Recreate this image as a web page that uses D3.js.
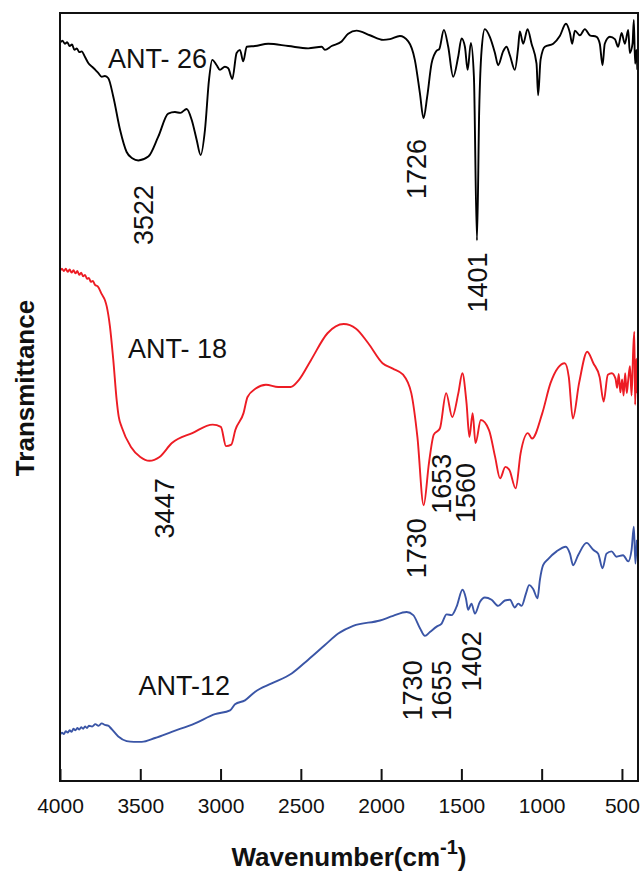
<!DOCTYPE html>
<html>
<head>
<meta charset="utf-8">
<script src="https://cdn.jsdelivr.net/npm/d3@7"></script>
<style>
  body { margin: 0; background: #fff; }
  svg text { font-family: "Liberation Sans", Arial, sans-serif; }
</style>
</head>
<body>
<div id="chart"></div>
<script>
const ant26 = [
  [4000, 96.1], [3985, 96.4], [3970, 96.0], [3955, 96.2], [3940, 95.7], [3925, 95.9], [3910, 95.2], [3895, 95.4],
  [3880, 94.9], [3865, 95.0], [3845, 94.3], [3824, 93.5], [3800, 93.0], [3780, 92.6], [3762, 92.2], [3740, 91.7],
  [3720, 91.8], [3699, 91.5], [3668, 89.1], [3626, 84.8], [3585, 81.9], [3550, 81.1], [3512, 80.8], [3450, 81.3],
  [3388, 83.9], [3326, 86.9], [3284, 87.1], [3250, 87.0], [3211, 87.5], [3180, 86.1], [3149, 83.5], [3124, 81.5],
  [3097, 84.8], [3072, 91.3], [3052, 93.9], [3024, 93.2], [3004, 92.6], [2973, 93.0], [2952, 92.8], [2927, 91.4],
  [2900, 94.8], [2879, 95.2], [2859, 93.7], [2837, 95.6], [2786, 95.7], [2703, 96.0], [2578, 95.7], [2454, 95.4],
  [2370, 95.6], [2350, 95.2], [2308, 95.7], [2246, 96.3], [2205, 97.3], [2153, 97.7], [2070, 97.1], [1987, 96.5],
  [1945, 96.6], [1883, 97.0], [1831, 96.3], [1790, 93.9], [1758, 89.5], [1736, 86.3], [1713, 89.1], [1686, 93.4],
  [1654, 95.1], [1638, 95.3], [1609, 97.8], [1582, 95.6], [1551, 91.7], [1520, 94.3], [1499, 96.7], [1478, 95.6],
  [1461, 92.6], [1441, 96.1], [1422, 91.7], [1403, 70.4], [1389, 87.4], [1374, 95.2], [1354, 97.9], [1323, 96.9],
  [1291, 94.8], [1271, 93.2], [1240, 95.0], [1219, 95.6], [1198, 94.5], [1167, 92.6], [1146, 95.6], [1136, 97.6],
  [1115, 96.0], [1088, 97.9], [1063, 96.0], [1032, 93.4], [1022, 89.3], [1007, 93.9], [980, 95.6], [928, 96.0],
  [887, 97.0], [849, 98.6], [824, 97.4], [810, 96.0], [793, 97.7], [762, 97.1], [731, 97.9], [700, 97.1],
  [658, 96.9], [638, 96.0], [621, 93.2], [607, 96.0], [575, 96.9], [544, 96.6], [524, 95.6], [502, 97.4],
  [482, 96.0], [461, 97.8], [451, 94.8], [434, 96.0], [426, 99.1], [418, 93.4], [410, 95.2], [404, 92.6]
];

const ant18 = [
  [4000, 66.4], [3988, 66.7], [3976, 66.4], [3964, 66.7], [3952, 66.3], [3940, 66.6], [3928, 66.2], [3916, 66.5],
  [3904, 66.1], [3892, 66.4], [3880, 65.9], [3868, 66.2], [3856, 65.7], [3844, 65.9], [3832, 65.4], [3820, 65.5],
  [3808, 65.0], [3795, 65.1], [3782, 64.6], [3765, 64.4], [3740, 63.4], [3720, 62.6], [3709, 61.8], [3689, 59.2],
  [3668, 54.8], [3647, 49.6], [3634, 47.4], [3616, 46.1], [3558, 43.5], [3500, 42.2], [3443, 41.7], [3380, 42.2],
  [3303, 44.0], [3176, 45.3], [3049, 46.4], [2998, 46.1], [2966, 43.6], [2933, 43.8], [2908, 45.7], [2857, 47.9],
  [2832, 50.0], [2781, 51.1], [2717, 51.6], [2641, 51.3], [2564, 51.3], [2513, 52.2], [2437, 54.8], [2334, 58.3],
  [2233, 59.5], [2156, 58.9], [2080, 57.0], [1991, 54.4], [1927, 53.7], [1863, 52.9], [1812, 50.5], [1774, 44.8],
  [1735, 35.9], [1702, 41.4], [1672, 45.1], [1634, 45.9], [1595, 50.5], [1557, 47.4], [1519, 50.5], [1494, 53.1],
  [1468, 49.2], [1450, 44.8], [1430, 47.9], [1412, 44.0], [1379, 47.0], [1328, 45.7], [1290, 42.2], [1259, 39.4],
  [1226, 40.9], [1201, 40.5], [1162, 38.1], [1131, 42.7], [1086, 45.3], [1060, 44.6], [996, 47.9], [945, 51.8],
  [856, 54.4], [831, 52.6], [806, 47.2], [767, 51.8], [716, 55.9], [678, 54.4], [639, 52.6], [614, 49.4],
  [588, 52.9], [563, 53.1], [540, 52.4], [530, 51.2], [520, 53.0], [510, 50.6], [499, 52.3], [490, 50.2],
  [480, 53.1], [470, 50.5], [461, 52.2], [450, 54.0], [440, 50.2], [430, 56.0], [423, 58.5], [418, 49.0],
  [410, 55.0], [404, 50.5]
];

const ant12 = [
  [4000, 6.0], [3988, 6.3], [3976, 6.1], [3964, 6.5], [3952, 6.3], [3940, 6.6], [3928, 6.4], [3916, 6.8],
  [3904, 6.6], [3892, 6.9], [3880, 6.7], [3868, 7.0], [3856, 6.8], [3844, 7.1], [3832, 6.9], [3820, 7.2],
  [3800, 7.1], [3780, 7.4], [3760, 7.2], [3740, 7.5], [3720, 7.3], [3700, 7.2], [3680, 6.8], [3637, 5.8],
  [3585, 5.2], [3540, 5.1], [3491, 5.1], [3408, 5.6], [3304, 6.4], [3159, 7.5], [3035, 8.7], [2941, 9.2],
  [2910, 10.0], [2848, 10.5], [2786, 11.6], [2682, 12.7], [2557, 14.0], [2454, 15.8], [2350, 17.7], [2267, 19.2],
  [2174, 20.2], [2007, 20.9], [1925, 21.5], [1841, 22.0], [1800, 21.6], [1758, 19.9], [1727, 18.9], [1696, 19.4],
  [1654, 20.1], [1623, 20.5], [1592, 21.7], [1561, 21.6], [1530, 22.7], [1493, 24.9], [1472, 23.8], [1458, 22.3],
  [1437, 23.1], [1416, 21.8], [1385, 23.3], [1354, 23.9], [1312, 23.6], [1271, 22.8], [1229, 23.5], [1198, 23.6],
  [1167, 22.6], [1146, 23.1], [1125, 22.8], [1098, 24.4], [1078, 25.5], [1053, 25.0], [1026, 23.8], [1011, 26.2],
  [991, 28.1], [960, 28.9], [907, 29.9], [849, 30.5], [824, 29.6], [804, 28.1], [773, 29.4], [720, 31.0],
  [679, 30.1], [648, 29.6], [621, 27.7], [596, 29.6], [565, 29.9], [534, 29.2], [493, 29.4], [461, 28.6],
  [440, 30.1], [426, 33.1], [416, 28.3], [407, 31.4]
];

const seriesNames = ["ANT- 26", "ANT- 18", "ANT-12"];
const seriesColors = ["#000000", "#ed1c24", "#3a55a6"];
const seriesLabelAt = [[3701, 92.8], [3577, 55.1], [3511, 11.2]];

const peakText = ["3522", "1726", "1401", "3447", "1730", "1653", "1560", "1730", "1655", "1402"];
const peakAt = [[3477, 73.7], [1774, 79.7], [1397, 64.9], [3343, 35.5], [1774, 30.3], [1621, 38.7], [1469, 37.5], [1799, 11.8], [1621, 11.8], [1437, 15.6]];

const xTicks = [4000, 3500, 3000, 2500, 2000, 1500, 1000, 500];

const width = 641, height = 871;
const margin = { top: 13, right: 3, bottom: 90, left: 60 };
const innerW = width - margin.left - margin.right;
const innerH = height - margin.top - margin.bottom;

const svg = d3.select("#chart").append("svg").attr("width", width).attr("height", height);
const g = svg.append("g").attr("transform", `translate(${margin.left},${margin.top})`);

const x = d3.scaleLinear().domain([4000, 400]).range([0, innerW]);
const y = d3.scaleLinear().domain([0, 100]).range([innerH, 0]);

const line = d3.line().x(d => x(d[0])).y(d => y(d[1])).curve(d3.curveMonotoneX);

[ant26, ant18, ant12].forEach((s, i) => {
  g.append("path").datum(s).attr("fill", "none").attr("stroke", seriesColors[i]).attr("stroke-width", 1.9).attr("stroke-linejoin", "round").attr("d", line);
});

g.selectAll(".series-label").data(seriesNames).join("text").attr("class", "series-label")
  .attr("x", (d, i) => x(seriesLabelAt[i][0])).attr("y", (d, i) => y(seriesLabelAt[i][1]))
  .style("font-size", "27px").style("fill", "#111").text(d => d);

g.selectAll(".peak-label").data(peakText).join("text").attr("class", "peak-label")
  .attr("transform", (d, i) => `translate(${x(peakAt[i][0])},${y(peakAt[i][1])}) rotate(-90)`)
  .attr("text-anchor", "middle").attr("dominant-baseline", "central")
  .style("font-size", "27px").style("fill", "#111").text(d => d);

const xAxis = g.append("g").attr("transform", `translate(0,${innerH})`)
  .call(d3.axisBottom(x).tickValues(xTicks).tickFormat(d3.format("d")).tickSize(-12).tickPadding(17));
xAxis.select(".domain").remove();
xAxis.selectAll(".tick line").attr("stroke", "#111").attr("stroke-width", 2);
xAxis.selectAll(".tick text").style("font-size", "21px").style("fill", "#111").style("font-family", "'Liberation Sans', Arial, sans-serif");

g.append("rect").attr("x", 0).attr("y", 0).attr("width", innerW).attr("height", innerH)
  .attr("fill", "none").attr("stroke", "#111").attr("stroke-width", 2);

const xTitle = svg.append("text").attr("x", margin.left + innerW / 2).attr("y", 866)
  .attr("text-anchor", "middle").style("font-size", "26px").style("font-weight", "700").style("fill", "#111");
xTitle.append("tspan").text("Wavenumber(cm");
xTitle.append("tspan").attr("dy", "-0.6em").style("font-size", "20px").text("-1");
xTitle.append("tspan").attr("dy", "0.45em").text(")");

svg.append("text").attr("transform", `translate(34,${388}) rotate(-90)`)
  .attr("text-anchor", "middle").style("font-size", "26px").style("font-weight", "700").style("fill", "#111")
  .text("Transmittance");
</script>
</body>
</html>
